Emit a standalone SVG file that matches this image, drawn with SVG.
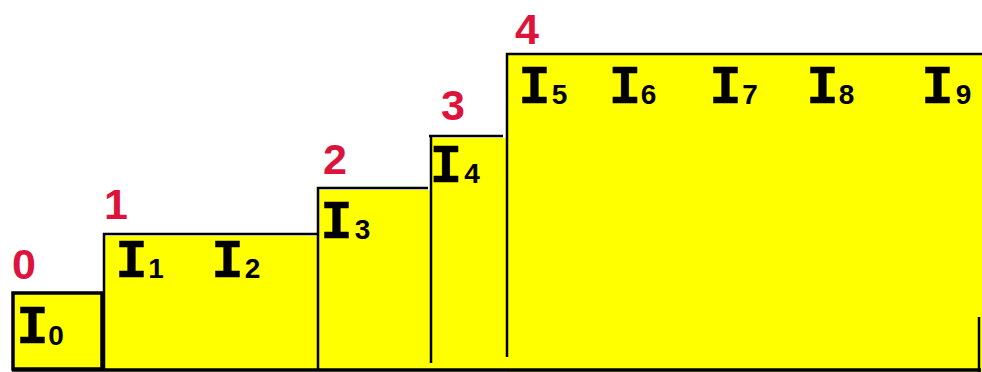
<svg xmlns="http://www.w3.org/2000/svg" width="982" height="372" viewBox="0 0 982 372">
  <style>
    .fill { fill: #ffff00; stroke: none; }
    .edge { stroke: #000; stroke-width: 2.5; fill: none; stroke-linecap: butt; }
    .thick { stroke: #000; stroke-width: 3.5; fill: none; }
    .lvl { font-family: "Liberation Sans", Arial, sans-serif; font-weight: bold; font-size: 43px; fill: #dc143c; }
    .ins { font-family: "Liberation Mono", "DejaVu Sans Mono", monospace; font-weight: bold; font-size: 54px; fill: #000; stroke: #000; stroke-width: 0.4; stroke-linejoin: round; text-anchor: middle; }
    .sub { font-family: "Liberation Sans", Arial, sans-serif; font-weight: bold; font-size: 28px; fill: #000; text-anchor: middle; }
  </style>

  <!-- step 0: I0 -->
  <g id="step0">
    <rect class="fill" x="12" y="292" width="91" height="77"/>
    <rect class="thick" x="13" y="293" width="89" height="76"/>
    <text class="lvl" x="12" y="279">0</text>
    <text class="ins" x="32.5" y="343">I</text>
    <text class="sub" x="56" y="345">0</text>
  </g>

  <!-- step 1: I1, I2 -->
  <g id="step1">
    <rect class="fill" x="104" y="236" width="214" height="133"/>
    <text class="lvl" x="104" y="219">1</text>
    <text class="ins" x="131.5" y="277">I</text>
    <text class="sub" x="156" y="278">1</text>
    <text class="ins" x="227.5" y="277">I</text>
    <text class="sub" x="252.5" y="278">2</text>
  </g>

  <!-- step 2: I3 -->
  <g id="step2">
    <rect class="fill" x="318" y="190" width="113" height="179"/>
    <text class="lvl" x="323" y="174">2</text>
    <text class="ins" x="336.5" y="238">I</text>
    <text class="sub" x="362.5" y="239">3</text>
  </g>

  <!-- step 3: I4 -->
  <g id="step3">
    <rect class="fill" x="431" y="138" width="76" height="231"/>
    <text class="lvl" x="441" y="120">3</text>
    <text class="ins" x="446" y="182">I</text>
    <text class="sub" x="472" y="183">4</text>
  </g>

  <!-- step 4: I5 .. I9 -->
  <g id="step4">
    <rect class="fill" x="507" y="55" width="475" height="317"/>
    <text class="lvl" x="515" y="44">4</text>
    <text class="ins" x="534.5" y="103">I</text>
    <text class="sub" x="559.5" y="104">5</text>
    <text class="ins" x="625" y="103">I</text>
    <text class="sub" x="648.5" y="104">6</text>
    <text class="ins" x="725.5" y="103">I</text>
    <text class="sub" x="750" y="104">7</text>
    <text class="ins" x="822.5" y="103">I</text>
    <text class="sub" x="846.5" y="104">8</text>
    <text class="ins" x="937.5" y="103">I</text>
    <text class="sub" x="963.5" y="104">9</text>
  </g>

  <!-- outlines of the steps -->
  <g id="connectors">
    <path class="edge" d="M104 369 V234 H318"/>
    <path class="edge" d="M318 369 V188 H428"/>
    <path class="edge" d="M431 363 V136 M429 136 H503"/>
    <path class="edge" d="M507 357 V54 H982"/>
    <path class="edge" d="M979 317 V372"/>
    <path class="thick" d="M12 370 H981"/>
  </g>
</svg>
